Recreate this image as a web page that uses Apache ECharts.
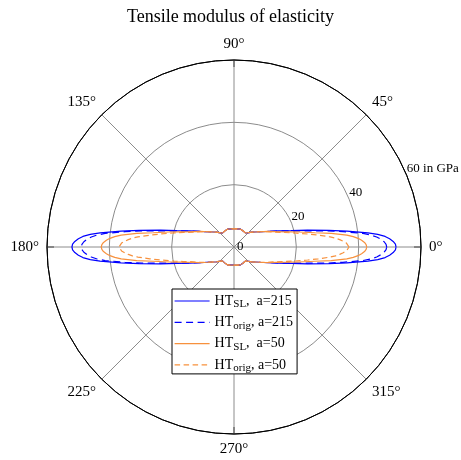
<!DOCTYPE html>
<html>
<head>
<meta charset="utf-8">
<script src="https://cdn.jsdelivr.net/npm/echarts@6/dist/echarts.min.js"></script>
<style>
html,body{margin:0;padding:0;background:#fff;}
#chart{width:461px;height:460px;}
</style>
</head>
<body>
<div id="chart"></div>
<script>
// Angles (degrees) at which the curves were read
var angles = [0,1,2,3,4,5,6,8,10,13,16,20,25,30,40,50,55,60,70,80,90,
  100,110,120,125,130,140,150,155,160,164,167,170,172,174,175,176,177,178,179,180,
  181,182,183,184,185,186,188,190,193,196,200,205,210,220,230,235,240,250,260,270,
  280,290,300,305,310,320,330,335,340,344,347,350,352,354,355,356,357,358,359,360];

// Tensile modulus (GPa) per series
var htSL215 = [52.0,51.8,51.1,50.0,48.6,46.3,43.2,36.6,30.9,24.2,19.0,15.1,11.8,9.8,7.4,5.8,5.7,5.9,6.1,5.9,5.8,
  5.9,6.1,5.9,5.7,5.8,7.4,9.8,11.8,15.1,19.0,24.2,30.9,36.6,43.2,46.3,48.6,50.0,51.1,51.8,52.0,
  51.8,51.1,50.0,48.6,46.3,43.2,36.6,30.9,24.2,19.0,15.1,11.8,9.8,7.4,5.8,5.7,5.9,6.1,5.9,5.8,
  5.9,6.1,5.9,5.7,5.8,7.4,9.8,11.8,15.1,19.0,24.2,30.9,36.6,43.2,46.3,48.6,50.0,51.1,51.8,52.0];
var htOrig215 = [49.0,48.8,48.2,47.2,45.9,44.1,41.6,35.3,29.9,23.1,18.8,15.0,11.8,9.8,7.4,5.8,5.7,5.9,6.1,5.9,5.8,
  5.9,6.1,5.9,5.7,5.8,7.4,9.8,11.8,15.0,18.8,23.1,29.9,35.3,41.6,44.1,45.9,47.2,48.2,48.8,49.0,
  48.8,48.2,47.2,45.9,44.1,41.6,35.3,29.9,23.1,18.8,15.0,11.8,9.8,7.4,5.8,5.7,5.9,6.1,5.9,5.8,
  5.9,6.1,5.9,5.7,5.8,7.4,9.8,11.8,15.0,18.8,23.1,29.9,35.3,41.6,44.1,45.9,47.2,48.2,48.8,49.0];
var htSL50 = [42.6,42.4,41.9,41.0,39.9,38.4,36.4,31.5,26.3,21.4,17.7,14.4,11.8,9.8,7.4,5.8,5.7,5.9,6.1,5.9,5.8,
  5.9,6.1,5.9,5.7,5.8,7.4,9.8,11.8,14.4,17.7,21.4,26.3,31.5,36.4,38.4,39.9,41.0,41.9,42.4,42.6,
  42.4,41.9,41.0,39.9,38.4,36.4,31.5,26.3,21.4,17.7,14.4,11.8,9.8,7.4,5.8,5.7,5.9,6.1,5.9,5.8,
  5.9,6.1,5.9,5.7,5.8,7.4,9.8,11.8,14.4,17.7,21.4,26.3,31.5,36.4,38.4,39.9,41.0,41.9,42.4,42.6];
var htOrig50 = [36.9,36.7,36.1,35.1,34.0,32.7,31.0,27.3,24.0,20.0,16.9,13.9,11.7,9.8,7.4,5.8,5.7,5.9,6.1,5.9,5.8,
  5.9,6.1,5.9,5.7,5.8,7.4,9.8,11.7,13.9,16.9,20.0,24.0,27.3,31.0,32.7,34.0,35.1,36.1,36.7,36.9,
  36.7,36.1,35.1,34.0,32.7,31.0,27.3,24.0,20.0,16.9,13.9,11.7,9.8,7.4,5.8,5.7,5.9,6.1,5.9,5.8,
  5.9,6.1,5.9,5.7,5.8,7.4,9.8,11.7,13.9,16.9,20.0,24.0,27.3,31.0,32.7,34.0,35.1,36.1,36.7,36.9];

var seriesNames = ['HT_SL, a=215','HT_orig, a=215','HT_SL, a=50','HT_orig, a=50'];
var legendLabels = ['{n|HT}{s|SL}{n|,  a=215}','{n|HT}{s|orig}{n|, a=215}','{n|HT}{s|SL}{n|,  a=50}','{n|HT}{s|orig}{n|, a=50}'];
var angleTicks = [0,45,90,135,180,225,270,315];
var radiusTicks = [0,20,40,60];
var titleText = 'Tensile modulus of elasticity';

var FONT = 'Liberation Serif';
function pairs(r){ return r.map(function(v,i){ return [v, angles[i]]; }); }

var chart = echarts.init(document.getElementById('chart'), null, {renderer:'canvas'});
var blue = '#0000ff', orange = '#f7913d';
var option = {
  backgroundColor:'#fff',
  animation:false,
  title:{text:titleText,left:'center',top:8,padding:0,
    textStyle:{fontFamily:FONT,fontSize:18,fontWeight:'normal',color:'#000'}},
  polar:[{center:[234,247],radius:187},{center:[234,247],radius:187}],
  angleAxis:[{
    polarIndex:0,type:'value',min:0,max:360,interval:45,startAngle:0,clockwise:false,
    axisLine:{show:true,lineStyle:{color:'#000',width:1}},
    axisTick:{show:true,inside:true,length:7,lineStyle:{color:'#000',width:1}},
    axisLabel:{show:true,margin:8,color:'#000',fontFamily:FONT,fontSize:15,
      formatter:function(v){ return angleTicks.indexOf(v)>=0 ? v+'°' : ''; }},
    splitLine:{show:true,lineStyle:{color:'#8c8c8c',width:1}}
  },{
    polarIndex:1,type:'value',min:0,max:360,startAngle:22.5,clockwise:false,show:false
  }],
  radiusAxis:[{
    polarIndex:0,type:'value',min:0,max:60,interval:20,
    axisLine:{show:false},axisTick:{show:false},
    splitLine:{show:true,lineStyle:{color:['#8c8c8c','#8c8c8c','#8c8c8c','#000'],width:1}},
    axisLabel:{show:true,margin:0,align:'left',verticalAlign:'middle',padding:[0,0,0,3],
      color:'#000',fontFamily:FONT,fontSize:13,
      formatter:function(v){ return v===radiusTicks[0] ? String(v) : ''; }}
  },{
    polarIndex:1,type:'value',min:0,max:60,interval:20,
    axisLine:{show:false},axisTick:{show:false},splitLine:{show:false},
    axisLabel:{show:true,margin:0,align:'left',verticalAlign:'bottom',
      color:'#000',fontFamily:FONT,fontSize:13,
      formatter:function(v){ if(v===radiusTicks[0]) return ''; return v===radiusTicks[3] ? v+' in GPa' : String(v); }}
  }],
  legend:{
    orient:'vertical',left:172,top:289,padding:[5,4,0,2],itemGap:5.3,itemWidth:35,itemHeight:14,
    backgroundColor:'#fff',borderColor:'#000',borderWidth:1,borderRadius:0,selectedMode:false,
    itemStyle:{opacity:0},
    lineStyle:{width:1.2},
    data:seriesNames,
    formatter:function(name){ return legendLabels[seriesNames.indexOf(name)]; },
    textStyle:{fontFamily:FONT,fontSize:14,color:'#000',
      rich:{
        n:{fontFamily:FONT,fontSize:14,lineHeight:18,color:'#000'},
        s:{fontFamily:FONT,fontSize:11,lineHeight:10,verticalAlign:'bottom',color:'#000'}
      }}
  },
  series:[
    {name:seriesNames[0],type:'line',coordinateSystem:'polar',polarIndex:0,symbol:'none',
      data:pairs(htSL215),lineStyle:{color:blue,width:1.2,type:'solid'},itemStyle:{color:blue}},
    {name:seriesNames[1],type:'line',coordinateSystem:'polar',polarIndex:0,symbol:'none',
      data:pairs(htOrig215),lineStyle:{color:blue,width:1.2,type:[7,4.5]},itemStyle:{color:blue}},
    {name:seriesNames[2],type:'line',coordinateSystem:'polar',polarIndex:0,symbol:'none',
      data:pairs(htSL50),lineStyle:{color:orange,width:1.2,type:'solid'},itemStyle:{color:orange}},
    {name:seriesNames[3],type:'line',coordinateSystem:'polar',polarIndex:0,symbol:'none',
      data:pairs(htOrig50),lineStyle:{color:orange,width:1.2,type:[5.5,3.5]},itemStyle:{color:orange}}
  ]
};
chart.setOption(option);
</script>
</body>
</html>
